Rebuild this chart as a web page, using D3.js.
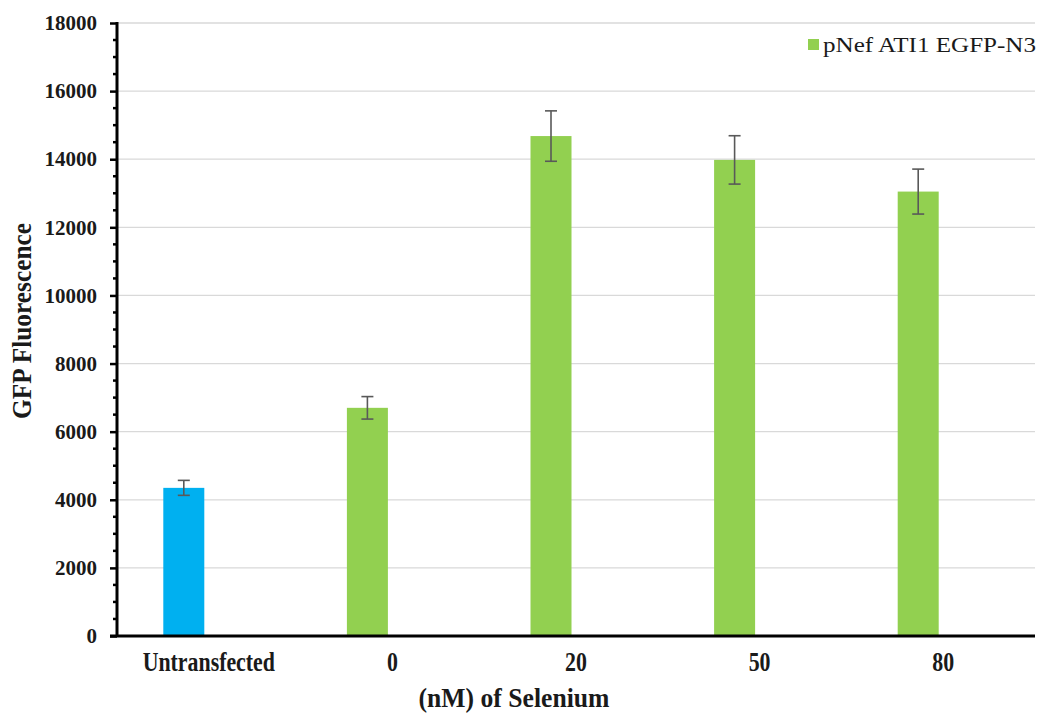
<!DOCTYPE html>
<html><head><meta charset="utf-8">
<script src="https://cdn.jsdelivr.net/npm/d3@7"></script>
<style>body{margin:0;background:#fff;} svg{display:block;}</style>
</head><body>
<svg id="c" width="1042" height="713"></svg>
<script>
const categories = ["Untransfected", "0", "20", "50", "80"];
const values = [4350, 6700, 14680, 13980, 13050];
const errors = [220, 330, 740, 710, 660];
const series = ["control", "pNef ATI1 EGFP-N3", "pNef ATI1 EGFP-N3", "pNef ATI1 EGFP-N3", "pNef ATI1 EGFP-N3"];
const yTicks = [0, 2000, 4000, 6000, 8000, 10000, 12000, 14000, 16000, 18000];
const legendLabel = "pNef ATI1 EGFP-N3";

const colors = {"control": "#00B0F0", "pNef ATI1 EGFP-N3": "#92D050"};
const svg = d3.select("#c");
const L = 117, R = 1035, T = 23, B = 636;
const x = d3.scaleBand().domain(categories).range([L, R]);
const y = d3.scaleLinear().domain([0, 18000]).range([B, T]);
const barW = 41, barOff = -25;
const font = "'Liberation Serif','Times New Roman',serif";
const ink = "#1a1a1a";

// gridlines
svg.append("g").selectAll("line").data(yTicks.filter(d => d > 0)).join("line")
  .attr("x1", L).attr("x2", R).attr("y1", d => y(d)).attr("y2", d => y(d))
  .attr("stroke", "#d9d9d9").attr("stroke-width", 1.3);

// bars
svg.append("g").selectAll("rect").data(categories).join("rect")
  .attr("x", (d, i) => x(d) + x.bandwidth() / 2 + barOff - barW / 2)
  .attr("width", barW)
  .attr("y", (d, i) => y(values[i]))
  .attr("height", (d, i) => B - y(values[i]))
  .attr("fill", (d, i) => colors[series[i]]);

// error bars
const eg = svg.append("g").attr("stroke", "#595959").attr("stroke-width", 1.6);
categories.forEach((c, i) => {
  const cx = x(c) + x.bandwidth() / 2 + barOff;
  const y1 = y(values[i] + errors[i]), y2 = y(values[i] - errors[i]);
  eg.append("line").attr("x1", cx).attr("x2", cx).attr("y1", y1).attr("y2", y2);
  eg.append("line").attr("x1", cx - 6).attr("x2", cx + 6).attr("y1", y1).attr("y2", y1);
  eg.append("line").attr("x1", cx - 6).attr("x2", cx + 6).attr("y1", y2).attr("y2", y2);
});

// y axis
const yAxis = d3.axisLeft(y).tickValues(yTicks).tickSize(7).tickPadding(13).tickFormat(d3.format("d"));
const yg = svg.append("g").attr("transform", `translate(${L},0)`).call(yAxis);
yg.select(".domain").attr("stroke", "#000").attr("stroke-width", 3).attr("d", `M0,${T-1}V${B}`);
yg.selectAll(".tick line").attr("stroke", "#000").attr("stroke-width", 2.5);
yg.selectAll(".tick text").attr("font-family", font).attr("font-weight", "bold").attr("font-size", 21).attr("fill", ink);
// minor ticks
const minor = d3.range(500, 18000, 500).filter(v => v % 2000 !== 0);
svg.append("g").selectAll("line").data(minor).join("line")
  .attr("x1", L - 4).attr("x2", L).attr("y1", d => y(d)).attr("y2", d => y(d))
  .attr("stroke", "#000").attr("stroke-width", 2.5);

// x axis
const xAxis = d3.axisBottom(x).tickSize(0).tickPadding(16);
const xg = svg.append("g").attr("transform", `translate(0,${B})`).call(xAxis);
xg.select(".domain").attr("stroke", "#000").attr("stroke-width", 3).attr("d", `M${L-7},0H${R}`);
xg.selectAll(".tick text").attr("font-family", font).attr("font-weight", "bold").attr("font-size", 27)
  .attr("fill", ink).attr("transform", "scale(0.81,1)");

// axis titles
svg.append("text").attr("transform", `translate(${(L + R) / 2 - 62},707) scale(0.95,1)`).attr("text-anchor", "middle")
  .attr("font-family", font).attr("font-weight", "bold").attr("font-size", 27).attr("fill", ink)
  .text("(nM) of Selenium");
svg.append("text").attr("transform", `translate(31,321) rotate(-90) scale(0.94,1)`).attr("text-anchor", "middle")
  .attr("font-family", font).attr("font-weight", "bold").attr("font-size", 27).attr("fill", ink)
  .text("GFP Fluorescence");

// legend
svg.append("rect").attr("x", 808).attr("y", 39).attr("width", 11).attr("height", 11).attr("fill", colors[legendLabel]);
svg.append("text").attr("x", 823).attr("y", 52).attr("font-family", font).attr("font-size", 21).attr("fill", ink)
  .attr("textLength", 213).attr("lengthAdjust", "spacingAndGlyphs")
  .text(legendLabel);
</script>
</body></html>
